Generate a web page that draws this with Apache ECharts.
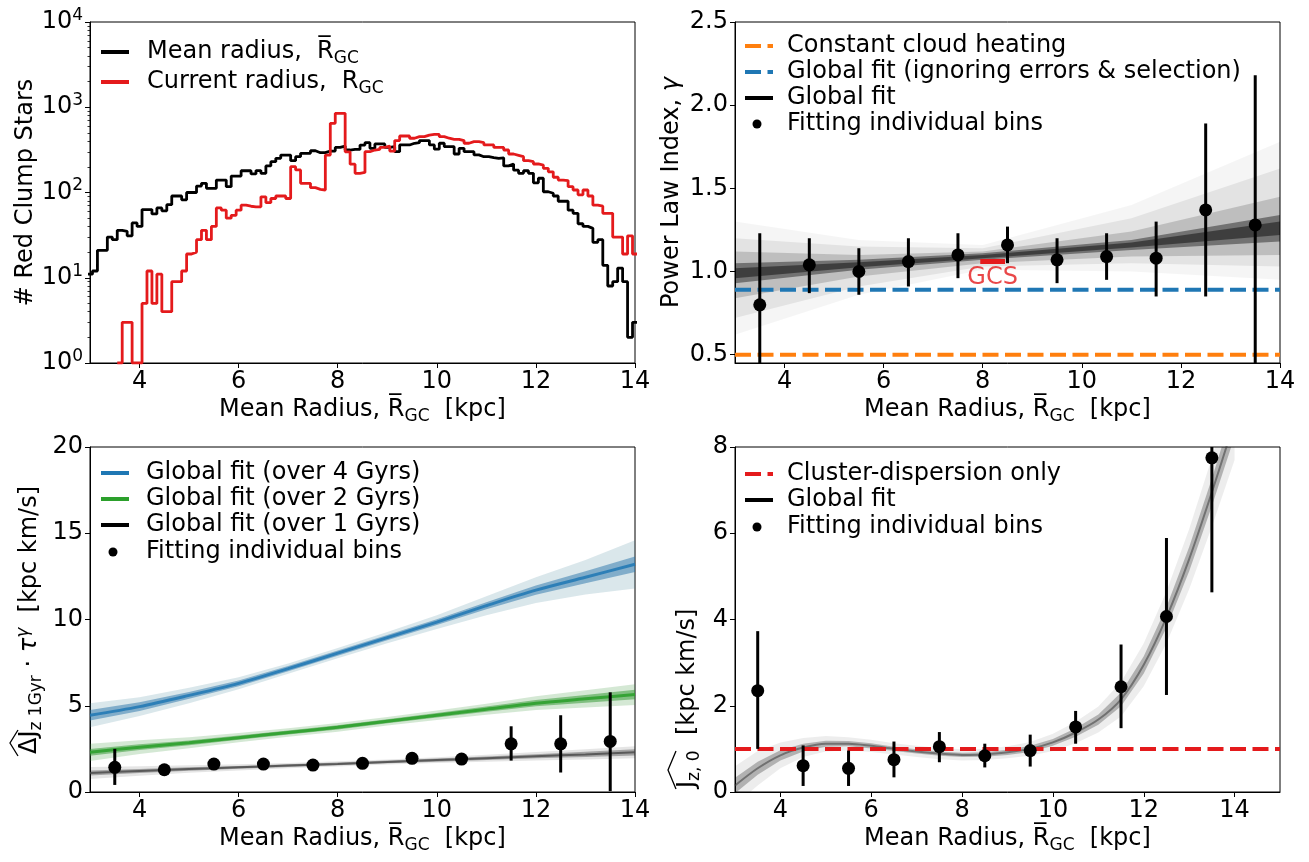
<!DOCTYPE html>
<html>
<head>
<meta charset="utf-8">
<script src="https://cdn.jsdelivr.net/npm/echarts@6/dist/echarts.min.js"></script>
<style>
  html, body { margin: 0; padding: 0; background: #fff; }
  #chart { width: 1309px; height: 862px; }
</style>
</head>
<body>
<div id="chart"></div>
<script>
// ---------------- data ----------------
const radiusTicks = [4, 6, 8, 10, 12, 14];
const countTicks = [1, 10, 100, 1000, 10000];

// Histogram of red clump stars, 0.1 kpc bins starting at 2.95 kpc
const histBinLow = 2.95;
const histBinWidth = 0.1;
const meanRadiusCounts = [
  11, 12, 21, 21, 30, 28, 36, 35, 31, 44, 40, 63, 63, 56, 66, 61, 72, 91, 91, 82,
  100, 100, 119, 128, 112, 112, 140, 140,
  117, 156, 156, 180, 180, 165, 181, 168, 205, 230, 252, 275, 275, 236, 263, 288,
  288, 309, 293, 293, 306, 306, 338, 350, 315, 320, 320, 360,
  384, 330, 371, 371, 338, 345, 301, 361, 361, 378, 384, 406, 406, 361, 322, 378,
  345, 345, 283, 330, 301, 301, 276, 263, 263, 256, 251, 255,
  205, 216, 183, 168, 180, 168, 130, 147, 102, 98, 91, 79, 79, 62, 57, 43, 40, 38,
  26, 28, 14, 8, 9, 13, 9, 2, 3
];
const currentRadiusCounts = [
  null, null, null, null, null, null, 1, 3, 3, 1, 1, 5, 12, 5, 11, 4, 4, 9, 9, 12,
  19, 20, 28, 36, 28, 40, 66, 62,
  50, 54, 62, 71, 69, 68, 68, 89, 76, 85, 91, 91, 85, 201, 184, 128, 128, 114,
  109, 107, 275, 648, 849, 849, 300, 215, 168, 172,
  301, 315, 320, 338, 350, 306, 406, 460, 460, 433, 452, 452, 472, 480, 480, 452,
  433, 421, 421, 406, 378, 395, 395, 384, 361, 361, 338, 338,
  315, 283, 273, 263, 236, 230, 216, 210, 192, 175, 151, 140, 138, 117, 107, 94,
  107, 91, 71, 69, 57, 57, 30, 30, 19, 31, 19
];

// Radial bins used for the individual fits
const binRadius = [3.5, 4.5, 5.5, 6.5, 7.5, 8.5, 9.5, 10.5, 11.5, 12.5, 13.5];

// Power law index
const gammaTicks = [0.5, 1.0, 1.5, 2.0, 2.5];
const gammaBins = [0.80, 1.04, 1.00, 1.06, 1.10, 1.16, 1.07, 1.09, 1.08, 1.37, 1.28];
const gammaLow  = [0.38, 0.87, 0.86, 0.91, 0.96, 1.05, 0.93, 0.95, 0.85, 0.85, 0.40];
const gammaHigh = [1.23, 1.20, 1.14, 1.20, 1.23, 1.27, 1.20, 1.23, 1.30, 1.89, 2.18];
const constantHeatingGamma = 0.5;
const naiveFitGamma = 0.89;
const gcsRadius = [7.95, 8.45];
const gcsGamma = 1.06;
const gcsLabelPos = [8.2, 0.965];
// envelopes of the sampled straight-line fits, from widest to narrowest
const gammaFitR = [3, 5.5, 8, 11, 14];
const gammaOuterLow  = [0.62, 0.86, 1.01, 1.00, 0.95];
const gammaOuterHigh = [1.30, 1.19, 1.16, 1.40, 1.78];
const gammaFaintLow  = [0.72, 0.91, 1.03, 1.05, 1.03];
const gammaFaintHigh = [1.20, 1.15, 1.14, 1.32, 1.62];
const gammaMidLow    = [0.84, 0.97, 1.05, 1.09, 1.10];
const gammaMidHigh   = [1.12, 1.10, 1.12, 1.24, 1.45];
const gammaCoreLow   = [0.93, 1.01, 1.07, 1.13, 1.18];
const gammaCoreHigh  = [1.05, 1.07, 1.11, 1.19, 1.34];
const gammaInnerLow  = [0.96, 1.025, 1.08, 1.145, 1.22];
const gammaInnerHigh = [1.02, 1.055, 1.10, 1.175, 1.30];

// Heating amplitude
const fitR = [3, 4, 5, 6, 7, 8, 9, 10, 11, 12, 13, 14];
const fit4Gyr = [4.45, 4.95, 5.6, 6.3, 7.15, 8.05, 8.95, 9.85, 10.8, 11.7, 12.45, 13.2];
const spread4GyrFaint = [0.7, 0.55, 0.45, 0.35, 0.3, 0.3, 0.32, 0.4, 0.55, 0.75, 1.0, 1.4];
const spread4GyrCore  = [0.3, 0.25, 0.2, 0.17, 0.15, 0.15, 0.15, 0.17, 0.2, 0.27, 0.35, 0.45];
const fit2Gyr = [2.3, 2.6, 2.85, 3.15, 3.45, 3.75, 4.1, 4.45, 4.8, 5.15, 5.4, 5.65];
const spread2GyrFaint = [0.5, 0.4, 0.32, 0.27, 0.25, 0.25, 0.25, 0.28, 0.32, 0.4, 0.5, 0.6];
const spread2GyrCore  = [0.2, 0.17, 0.14, 0.12, 0.12, 0.12, 0.12, 0.13, 0.15, 0.18, 0.22, 0.28];
const fit1Gyr = [1.1, 1.22, 1.33, 1.43, 1.53, 1.63, 1.74, 1.85, 1.96, 2.07, 2.18, 2.3];
const spread1GyrFaint = [0.35, 0.28, 0.22, 0.18, 0.15, 0.15, 0.15, 0.17, 0.2, 0.25, 0.3, 0.35];
const spread1GyrCore  = [0.15, 0.12, 0.1, 0.08, 0.08, 0.08, 0.08, 0.09, 0.1, 0.12, 0.15, 0.18];
const dJBins = [1.43, 1.29, 1.62, 1.62, 1.56, 1.66, 1.95, 1.91, 2.79, 2.79, 2.93];
const dJLow  = [0.41, 1.10, 1.30, 1.30, 1.35, 1.45, 1.62, 1.60, 1.82, 1.13, 0.05];
const dJHigh = [2.50, 1.50, 1.92, 1.95, 1.80, 1.90, 2.30, 2.25, 3.81, 4.45, 5.78];

// Initial action dispersion
const jz0FitR = [3, 3.5, 4, 4.5, 5, 5.5, 6, 6.5, 7, 7.5, 8, 8.5, 9, 9.5, 10, 10.5, 11, 11.5, 12, 12.5, 13, 13.5, 14];
const jz0Fit = [0.15, 0.55, 0.85, 1.03, 1.12, 1.12, 1.07, 1.0, 0.94, 0.89, 0.86, 0.87, 0.92, 1.0, 1.15, 1.38, 1.68, 2.15, 2.95, 4.05, 5.4, 6.95, 8.6];
const jz0SpreadFaint = [0.45, 0.4, 0.3, 0.22, 0.18, 0.15, 0.14, 0.13, 0.13, 0.13, 0.13, 0.13, 0.14, 0.16, 0.2, 0.25, 0.3, 0.4, 0.5, 0.6, 0.7, 0.8, 0.9];
const jz0SpreadCore  = [0.18, 0.15, 0.12, 0.09, 0.07, 0.06, 0.06, 0.05, 0.05, 0.05, 0.05, 0.05, 0.06, 0.07, 0.08, 0.1, 0.12, 0.16, 0.2, 0.24, 0.28, 0.32, 0.36];
const jz0Bins = [2.35, 0.61, 0.55, 0.75, 1.05, 0.84, 0.96, 1.51, 2.44, 4.07, 7.75];
const jz0Low  = [1.00, 0.14, 0.14, 0.34, 0.69, 0.57, 0.59, 1.12, 1.48, 2.25, 4.63];
const jz0High = [3.73, 1.08, 0.96, 1.17, 1.39, 1.12, 1.33, 1.88, 3.42, 5.89, 9.00];
const clusterDispersion = 1.0;

// ---------------- styling helpers ----------------
const FONT = 'DejaVu Sans';
const RED = '#e41a1c';
const rich = {
  n: { fontFamily: FONT, fontSize: 24, color: '#000', lineHeight: 30 },
  i: { fontFamily: FONT, fontSize: 24, color: '#000', lineHeight: 30, fontStyle: 'italic' },
  s: { fontFamily: FONT, fontSize: 17, color: '#000', lineHeight: 14, verticalAlign: 'bottom' },
  p: { fontFamily: FONT, fontSize: 17, color: '#000', lineHeight: 14, verticalAlign: 'top' },
  pi: { fontFamily: FONT, fontSize: 17, color: '#000', lineHeight: 14, verticalAlign: 'top', fontStyle: 'italic' }
};
const radiusName = '{n|Mean Radius, R\u0305}{s|GC}{n|  [kpc]}';

const grids = [
  { left: 90, top: 22, width: 545, height: 341 },
  { left: 735, top: 22, width: 545, height: 341 },
  { left: 90, top: 447, width: 545, height: 345 },
  { left: 735, top: 447, width: 545, height: 345 }
].map(g => Object.assign({ show: true, borderColor: '#000', borderWidth: 1, backgroundColor: 'transparent' }, g));

const axisLine = { show: true, onZero: false, lineStyle: { color: '#000', width: 1 } };
const tickStyle = { color: '#000', width: 1 };

function xAxisFor(gridIndex, max) {
  return {
    type: 'value', gridIndex, min: 3, max,
    axisLine,
    axisTick: { show: true, length: 5, customValues: radiusTicks, lineStyle: tickStyle },
    axisLabel: { customValues: radiusTicks, fontSize: 24, color: '#000', fontFamily: FONT, margin: 7 },
    splitLine: { show: false },
    name: radiusName, nameLocation: 'middle', nameGap: 32,
    nameTextStyle: { rich }
  };
}

function linearY(gridIndex, min, max, ticks, fmt, name, gap) {
  return {
    type: 'value', gridIndex, min, max,
    axisLine,
    axisTick: { show: true, length: 5, customValues: ticks, lineStyle: tickStyle },
    axisLabel: { customValues: ticks, fontSize: 24, color: '#000', fontFamily: FONT, margin: 7, formatter: fmt },
    splitLine: { show: false },
    name: name || '', nameLocation: 'middle', nameRotate: 90, nameGap: gap || 40,
    nameTextStyle: { rich }
  };
}

const minorCountTicks = [];
for (let d = 1; d < 10000; d *= 10) for (let m = 2; m <= 9; m++) minorCountTicks.push(m * d);

// step outline of a histogram through the log axis
function histPoints(counts) {
  const pts = [];
  let last = null;
  counts.forEach((c, i) => {
    if (c == null) return;
    pts.push([histBinLow + i * histBinWidth, c]);
    last = i;
  });
  pts.push([histBinLow + (last + 1) * histBinWidth, counts[last]]);
  return pts;
}

function band(xi, yi, xs, lo, hi, color, z) {
  return {
    type: 'custom', xAxisIndex: xi, yAxisIndex: yi, clip: true, silent: true, z,
    data: [[xs[0], lo[0]]],
    renderItem: (params, api) => {
      const up = xs.map((x, k) => api.coord([x, hi[k]]));
      const dn = xs.map((x, k) => api.coord([x, lo[k]])).reverse();
      return { type: 'polygon', shape: { points: up.concat(dn) }, style: { fill: color } };
    }
  };
}
function spreadBand(xi, yi, xs, centre, spread, color, z) {
  return band(xi, yi, xs, centre.map((c, k) => c - spread[k]), centre.map((c, k) => c + spread[k]), color, z);
}
function fitLine(xi, yi, xs, ys, color, width, z) {
  return {
    type: 'line', xAxisIndex: xi, yAxisIndex: yi, symbol: 'none', silent: true, z, clip: true,
    data: xs.map((x, k) => [x, ys[k]]), smooth: 0.3,
    lineStyle: { color, width }
  };
}
function hLine(xi, yi, x0, x1, y, color, width, dash, z) {
  return {
    type: 'line', xAxisIndex: xi, yAxisIndex: yi, symbol: 'none', silent: true, z,
    data: [[x0, y], [x1, y]],
    lineStyle: { color, width, type: dash || 'solid' }
  };
}
function errorBars(xi, yi, xs, lo, hi) {
  return {
    type: 'custom', xAxisIndex: xi, yAxisIndex: yi, clip: true, silent: true, z: 6,
    data: xs.map((x, k) => [x, lo[k], hi[k]]),
    encode: { x: 0, y: [1, 2] },
    renderItem: (params, api) => {
      const a = api.coord([api.value(0), api.value(1)]);
      const b = api.coord([api.value(0), api.value(2)]);
      return { type: 'line', shape: { x1: a[0], y1: a[1], x2: b[0], y2: b[1] }, style: { stroke: '#000', lineWidth: 3 } };
    }
  };
}
function points(xi, yi, xs, ys) {
  return {
    type: 'scatter', xAxisIndex: xi, yAxisIndex: yi, symbol: 'circle', symbolSize: 13, z: 7,
    itemStyle: { color: '#000', opacity: 1 }, silent: true,
    data: xs.map((x, k) => [x, ys[k]])
  };
}

// ---------------- legends and custom labels ----------------
const DASH = [16, 6.5];
function legendLine(x, y, color, dash) {
  return { type: 'line', shape: { x1: x, y1: y, x2: x + 28, y2: y }, style: { stroke: color, lineWidth: 4, lineDash: dash || null } };
}
function legendDot(x, y) {
  return { type: 'circle', shape: { cx: x + 12, cy: y, r: 4.5 }, style: { fill: '#000' } };
}
function legendText(x, y, text) {
  return { type: 'text', x, y, style: { text, rich, verticalAlign: 'middle', align: 'left' } };
}

const graphics = [
  // top-left legend
  legendLine(101, 52, '#000'), legendText(147, 52, '{n|Mean radius,  R\u0305}{s|GC}'),
  legendLine(101, 82, RED), legendText(147, 82, '{n|Current radius,  R}{s|GC}'),
  // top-right legend
  legendLine(745, 46, '#ff7f0e', DASH), legendText(787, 46, '{n|Constant cloud heating}'),
  legendLine(745, 72, '#1f77b4', DASH), legendText(787, 72, '{n|Global fit (ignoring errors & selection)}'),
  legendLine(745, 98, '#000'), legendText(787, 98, '{n|Global fit}'),
  legendDot(745, 124), legendText(787, 124, '{n|Fitting individual bins}'),
  // bottom-left legend
  legendLine(101, 473, '#1f77b4'), legendText(146, 473, '{n|Global fit (over 4 Gyrs)}'),
  legendLine(101, 499, '#2ca02c'), legendText(146, 499, '{n|Global fit (over 2 Gyrs)}'),
  legendLine(101, 525, '#000'), legendText(146, 525, '{n|Global fit (over 1 Gyrs)}'),
  legendDot(101, 552), legendText(146, 552, '{n|Fitting individual bins}'),
  // bottom-right legend
  legendLine(745, 474, RED, DASH), legendText(787, 474, '{n|Cluster-dispersion only}'),
  legendLine(745, 500, '#000'), legendText(787, 500, '{n|Global fit}'),
  legendDot(745, 527), legendText(787, 527, '{n|Fitting individual bins}'),
  // bottom-left y label with wide hat
  {
    type: 'group', x: 30, y: 622, rotation: Math.PI / 2,
    children: [
      { type: 'text', x: -132, y: 0, style: { text: '{n|\u0394J}{s|z 1Gyr}{n| \u00b7 }{i|\u03c4}{pi|\u03b3}{n|  [kpc km/s]}', rich, verticalAlign: 'middle', align: 'left' } },
      { type: 'polyline', shape: { points: [[-134, -12], [-121, -20], [-108, -12]] }, style: { stroke: '#000', lineWidth: 1.3, fill: null } }
    ]
  },
  // bottom-right y label with wide hat
  {
    type: 'group', x: 688, y: 698, rotation: Math.PI / 2,
    children: [
      { type: 'text', x: -90, y: 0, style: { text: '{n|J}{s|z, 0}{n|  [kpc km/s]}', rich, verticalAlign: 'middle', align: 'left' } },
      { type: 'polyline', shape: { points: [[-91, -12], [-72, -20], [-53, -12]] }, style: { stroke: '#000', lineWidth: 1.3, fill: null } }
    ]
  }
];

// ---------------- option ----------------
const option = {
  backgroundColor: '#fff',
  animation: false,
  textStyle: { fontFamily: FONT },
  grid: grids,
  xAxis: [xAxisFor(0, 14), xAxisFor(1, 14), xAxisFor(2, 14), xAxisFor(3, 15)],
  yAxis: [
    {
      type: 'log', logBase: 10, gridIndex: 0, min: 1, max: 10000,
      axisLine,
      axisTick: { show: true, length: 5, customValues: countTicks, lineStyle: tickStyle },
      axisLabel: {
        customValues: countTicks, margin: 7,
        formatter: v => '{b|10}{e|' + Math.round(Math.log10(v)) + '}',
        rich: {
          b: { fontFamily: FONT, fontSize: 24, color: '#000', lineHeight: 30 },
          e: { fontFamily: FONT, fontSize: 17, color: '#000', lineHeight: 14, verticalAlign: 'top' }
        }
      },
      splitLine: { show: false },
      name: '# Red Clump Stars', nameLocation: 'middle', nameRotate: 90, nameGap: 46,
      nameTextStyle: { fontFamily: FONT, fontSize: 24, color: '#000' }
    },
    linearY(1, 0.45, 2.5, gammaTicks, v => v.toFixed(1), '{n|Power Law Index, }{i|\u03b3}', 48),
    linearY(2, 0, 20, [0, 5, 10, 15, 20], null, '', 40),
    linearY(3, 0, 8, [0, 2, 4, 6, 8], null, '', 40),
    {
      type: 'log', logBase: 10, gridIndex: 0, min: 1, max: 10000, position: 'left',
      axisLine: { show: false },
      axisTick: { show: true, length: 2.5, customValues: minorCountTicks, lineStyle: { color: '#000', width: 0.8 } },
      axisLabel: { show: false },
      splitLine: { show: false }
    }
  ],
  series: [
    // counts
    {
      type: 'line', xAxisIndex: 0, yAxisIndex: 0, step: 'end', symbol: 'none', clip: true, z: 3,
      data: histPoints(meanRadiusCounts), lineStyle: { color: '#000', width: 2.8 }
    },
    {
      type: 'line', xAxisIndex: 0, yAxisIndex: 0, step: 'end', symbol: 'none', clip: true, z: 4,
      data: histPoints(currentRadiusCounts), lineStyle: { color: RED, width: 2.8 }
    },

    // power law index
    band(1, 1, gammaFitR, gammaOuterLow, gammaOuterHigh, 'rgba(0,0,0,0.04)', 1),
    band(1, 1, gammaFitR, gammaFaintLow, gammaFaintHigh, 'rgba(0,0,0,0.07)', 1),
    band(1, 1, gammaFitR, gammaMidLow, gammaMidHigh, 'rgba(0,0,0,0.16)', 1),
    band(1, 1, gammaFitR, gammaCoreLow, gammaCoreHigh, 'rgba(0,0,0,0.4)', 1),
    band(1, 1, gammaFitR, gammaInnerLow, gammaInnerHigh, 'rgba(0,0,0,0.45)', 1),
    hLine(1, 1, 3, 14, constantHeatingGamma, '#ff7f0e', 4, DASH, 3),
    hLine(1, 1, 3, 14, naiveFitGamma, '#1f77b4', 4, DASH, 3),
    hLine(1, 1, gcsRadius[0], gcsRadius[1], gcsGamma, RED, 5, 'solid', 4),
    {
      type: 'scatter', xAxisIndex: 1, yAxisIndex: 1, symbolSize: 0, silent: true, z: 4,
      data: [gcsLabelPos],
      label: { show: true, position: 'inside', formatter: 'GCS', color: RED, fontSize: 24, fontFamily: FONT }
    },
    errorBars(1, 1, binRadius, gammaLow, gammaHigh),
    points(1, 1, binRadius, gammaBins),

    // heating amplitude
    spreadBand(2, 2, fitR, fit4Gyr, spread4GyrFaint, 'rgba(70,135,155,0.2)', 1),
    spreadBand(2, 2, fitR, fit4Gyr, spread4GyrCore, 'rgba(40,115,170,0.5)', 1),
    fitLine(2, 2, fitR, fit4Gyr, 'rgba(31,119,180,0.85)', 3, 2),
    spreadBand(2, 2, fitR, fit2Gyr, spread2GyrFaint, 'rgba(60,150,60,0.22)', 1),
    spreadBand(2, 2, fitR, fit2Gyr, spread2GyrCore, 'rgba(44,150,44,0.5)', 1),
    fitLine(2, 2, fitR, fit2Gyr, 'rgba(44,160,44,0.9)', 3, 2),
    spreadBand(2, 2, fitR, fit1Gyr, spread1GyrFaint, 'rgba(0,0,0,0.1)', 1),
    spreadBand(2, 2, fitR, fit1Gyr, spread1GyrCore, 'rgba(40,40,40,0.35)', 1),
    fitLine(2, 2, fitR, fit1Gyr, 'rgba(70,70,70,0.8)', 2, 2),
    errorBars(2, 2, binRadius, dJLow, dJHigh),
    points(2, 2, binRadius, dJBins),

    // initial dispersion
    spreadBand(3, 3, jz0FitR, jz0Fit, jz0SpreadFaint, 'rgba(0,0,0,0.07)', 1),
    spreadBand(3, 3, jz0FitR, jz0Fit, jz0SpreadCore, 'rgba(0,0,0,0.25)', 1),
    fitLine(3, 3, jz0FitR, jz0Fit, 'rgba(60,60,60,0.55)', 2, 2),
    hLine(3, 3, 3, 15, clusterDispersion, RED, 4, DASH, 3),
    errorBars(3, 3, binRadius, jz0Low, jz0High),
    points(3, 3, binRadius, jz0Bins)
  ],
  graphic: graphics
};

const chart = echarts.init(document.getElementById('chart'), null, { renderer: 'canvas' });
chart.setOption(option);
</script>
</body>
</html>
